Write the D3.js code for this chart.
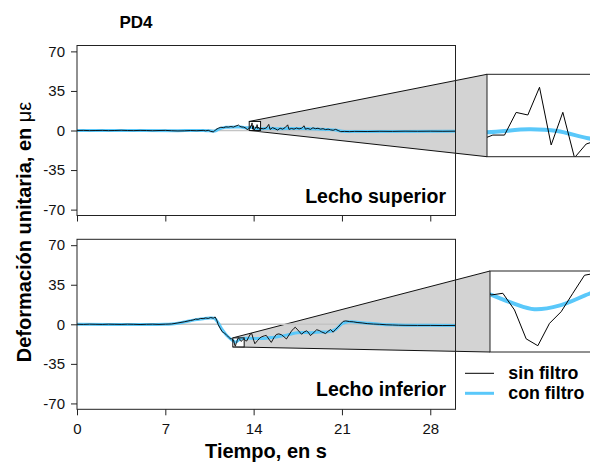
<!DOCTYPE html>
<html><head><meta charset="utf-8">
<script src="https://cdn.jsdelivr.net/npm/d3@7"></script>
<style>body{margin:0;background:#fff}svg{display:block}text{font-family:"Liberation Sans",Arial,sans-serif}</style>
</head><body><svg id="c" width="590" height="463"></svg>
<script>
// ---------- data ----------
const title = "PD4";
const xTicks = [0, 7, 14, 21, 28];
const yTicks = [-70, -35, 0, 35, 70];
const xDomain = [0, 30];
const yDomain = [-75.2, 75.2];
const panelLabels = ["Lecho superior", "Lecho inferior"];
const legendLabels = ["sin filtro", "con filtro"];
const xTitle = "Tiempo, en s";
const yTitle = "Deformación unitaria, en ";
const yUnit = "με";

// zoom windows [t0,t1] and [v0,v1]
const supZoomT = [13.65, 14.55], supZoomV = [0, 8];
const infZoomT = [12.35, 13.25], infZoomV = [-20, -12];

// Lecho superior: [t (s), deformación (µε)]
const supRaw = [[0,0],[0.5,0.1],[1,-0.1],[1.5,0],[2,0.1],[2.5,-0.1],[3,0],[3.5,0.2],[4,0],[4.5,-0.1],[5,0.1],[5.5,0],[6,-0.2],[6.5,0],[7,0.1],[7.5,-0.2],[8,-0.4],[8.5,-0.3],[9,0],[9.5,-0.2],[10,0.1],[10.2,-0.3],[10.4,0.2],[10.6,-0.8],[10.8,-1.2],[10.9,-0.5],[11,0.8],[11.2,2],[11.4,2.9],[11.6,2.5],[11.8,3.2],[12,3],[12.2,3.5],[12.4,3],[12.6,4],[12.8,4.8],[12.9,3.8],[13,3.2],[13.2,3],[13.4,2],[13.5,0.5],[13.575,1.5],[13.625,1.67],[13.675,2.1],[13.725,2.1],[13.775,4.3],[13.825,4.05],[13.875,6.74],[13.925,1.14],[13.975,4.31],[14.025,-0.1],[14.075,1.23],[14.125,1.6],[14.175,3.2],[14.225,2.5],[14.275,5.2],[14.325,1.8],[14.375,3],[14.425,2.2],[14.475,1],[14.525,2.4],[14.575,1.8],[14.8,1.5],[15,2.2],[15.2,5.4],[15.3,0.9],[15.5,2.5],[15.7,1.6],[15.9,0.4],[16.1,2],[16.3,1.2],[16.5,2.6],[16.7,5],[16.8,1],[17,1.8],[17.2,1.2],[17.4,2.2],[17.6,1.4],[17.8,2],[18,4.2],[18.1,1.2],[18.3,1.8],[18.5,1],[18.7,2.4],[18.9,1.6],[19.1,2],[19.3,1.2],[19.5,1.6],[19.7,0.8],[19.9,1.2],[20.1,0.6],[20.3,0.2],[20.5,1],[20.7,0],[20.9,-1],[21.2,-0.8],[21.6,-1],[22,-0.8],[23,-0.9],[24,-0.7],[25,-0.8],[26,-0.6],[27,-0.7],[28,-0.6],[29,-0.7],[30,-0.6]];
const supFilt = [[0,0],[5,0],[8,-0.2],[9,0],[10,0],[10.5,-0.3],[10.9,-0.5],[11.3,1.5],[11.8,2.8],[12.5,3.2],[13,3],[13.4,2.4],[13.65,2.37],[13.83,2.66],[13.95,2.5],[14.1,1.72],[14.3,1.3],[14.6,1.5],[15.2,2],[16,1.6],[17,1.8],[18,1.8],[19,1.4],[20,0.8],[20.6,0.2],[21,-0.6],[22,-0.8],[30,-0.7]];

// Lecho inferior
const infRaw = [[0,0],[0.5,-0.1],[1,0.1],[1.5,0],[2,-0.1],[2.5,0.1],[3,0],[3.5,-0.1],[4,0.1],[4.5,0],[5,-0.2],[5.5,0],[6,0.1],[6.5,-0.1],[7,0.1],[7.5,0.3],[8,1.2],[8.5,2.2],[9,3.4],[9.2,3.8],[9.4,4.6],[9.6,4.4],[9.8,5.2],[10,5],[10.2,5.6],[10.4,5.2],[10.6,6],[10.8,5.4],[10.95,6.5],[11.1,3],[11.2,-0.5],[11.35,-3.5],[11.5,-6.5],[11.6,-7.2],[11.7,-8],[11.8,-8.8],[11.9,-10],[12,-11.2],[12.1,-12],[12.2,-13.2],[12.255,-12.6],[12.305,-13],[12.355,-14.37],[12.405,-14.2],[12.455,-15.85],[12.505,-18.7],[12.555,-19.38],[12.605,-17.17],[12.655,-16.02],[12.705,-14.2],[12.755,-12.42],[12.805,-12.2],[12.855,-12.6],[12.905,-13.4],[12.955,-14.6],[13.005,-15.2],[13.055,-14.8],[13.105,-14],[13.155,-13.4],[13.205,-13],[13.255,-13.2],[13.35,-14.5],[13.45,-14.8],[13.6,-11.5],[13.75,-8.5],[13.85,-8.2],[14,-14],[14.1,-17.2],[14.3,-14.5],[14.5,-12],[14.65,-11],[14.85,-10.2],[15,-9.8],[15.2,-13],[15.4,-16],[15.6,-12],[15.8,-9],[16,-8.5],[16.2,-9.2],[16.4,-11],[16.6,-13],[16.8,-9.5],[17,-6],[17.2,-3.5],[17.3,-2.6],[17.5,-5],[17.8,-8.8],[18,-6.8],[18.2,-5.8],[18.4,-8],[18.5,-10],[18.7,-8],[19,-4.8],[19.2,-5.5],[19.4,-6.8],[19.7,-8.2],[19.9,-6.2],[20.1,-4.6],[20.3,-7],[20.5,-4.5],[20.7,-2.4],[20.9,0.2],[21.1,2.6],[21.3,3],[21.6,2.4],[21.9,2.2],[22.2,1.6],[22.6,1.2],[23,0.6],[23.5,0.2],[24,0],[24.5,-0.4],[25,-0.6],[25.5,-0.8],[26,-0.9],[27,-1],[28,-1],[29,-1.1],[30,-1]];
const infFilt = [[0,0],[7,0],[7.5,0.3],[8,1],[8.5,2],[9,3.2],[9.5,4.3],[10,5],[10.5,5.5],[10.9,5.2],[11.2,1],[11.5,-4.5],[11.8,-9],[12.1,-12.2],[12.35,-14.3],[12.45,-15.2],[12.54,-15.78],[12.65,-15.4],[12.78,-14.2],[12.9,-13.3],[13.1,-12.6],[13.5,-12.3],[14,-12.6],[14.5,-12.6],[15,-12.3],[15.5,-11.6],[16,-10.8],[16.5,-9.8],[17,-8.5],[17.5,-7.5],[18,-7.2],[18.5,-7.5],[19,-7],[19.5,-6.8],[20,-6.5],[20.5,-4.5],[21,0.5],[21.5,2.3],[22,2],[23,1],[24,0.1],[25,-0.5],[26,-0.8],[30,-1]];

// ---------- layout ----------
const BLUE = "#5ac8fa";
const L = 77, R = 455.5;
const panels = [
  {top: 45.5, bottom: 215.5, raw: supRaw, filt: supFilt, zt: supZoomT, zv: supZoomV, label: panelLabels[0], showXLabels: false,
   inset: {x0: 487, x1: 697, y0: 74.3, y1: 156.7}},
  {top: 239.3, bottom: 409.3, raw: infRaw, filt: infFilt, zt: infZoomT, zv: infZoomV, label: panelLabels[1], showXLabels: true,
   inset: {x0: 490, x1: 700, y0: 271, y1: 352}}
];
const fmt = d => String(d); // plain hyphen-minus as in the reference

const svg = d3.select("#c");
svg.append("rect").attr("width", 590).attr("height", 463).attr("fill", "#fff");
const defs = svg.append("defs");
const x = d3.scaleLinear().domain(xDomain).range([L, R]);

panels.forEach((p, i) => {
  const y = d3.scaleLinear().domain(yDomain).range([p.bottom, p.top]);
  const g = svg.append("g");
  defs.append("clipPath").attr("id", "pc" + i).append("rect")
    .attr("x", L).attr("y", p.top).attr("width", R - L).attr("height", p.bottom - p.top);
  const ins = p.inset;
  defs.append("clipPath").attr("id", "ic" + i).append("rect")
    .attr("x", ins.x0).attr("y", ins.y0).attr("width", ins.x1 - ins.x0).attr("height", ins.y1 - ins.y0);

  const bx0 = x(p.zt[0]), bx1 = x(p.zt[1]), byT = y(p.zv[1]), byB = y(p.zv[0]);

  // grey connector polygon
  g.append("path")
    .attr("d", `M${bx0},${byT}L${ins.x0},${ins.y0}L${ins.x0},${ins.y1}L${bx0},${byB}Z`)
    .attr("fill", "#d3d3d3").attr("stroke", "none");
  g.append("line").attr("x1", bx0).attr("y1", byT).attr("x2", ins.x0).attr("y2", ins.y0)
    .attr("stroke", "#111").attr("stroke-width", 1);
  g.append("line").attr("x1", bx0).attr("y1", byB).attr("x2", ins.x0).attr("y2", ins.y1)
    .attr("stroke", "#111").attr("stroke-width", 1);

  // zero reference line
  g.append("line").attr("x1", x(xDomain[0])).attr("x2", x(xDomain[1])).attr("y1", y(0)).attr("y2", y(0))
    .attr("stroke", "#c4c4c4").attr("stroke-width", 1.5);

  // small zoom box (white)
  g.append("rect").attr("x", bx0).attr("y", byT).attr("width", bx1 - bx0).attr("height", byB - byT)
    .attr("fill", "#fff");

  // data
  const lineRaw = d3.line().x(d => x(d[0])).y(d => y(d[1]));
  const lineFilt = d3.line().x(d => x(d[0])).y(d => y(d[1])).curve(d3.curveCatmullRom.alpha(0.5));
  const dg = g.append("g").attr("clip-path", `url(#pc${i})`);
  dg.append("path").datum(p.filt).attr("d", lineFilt).attr("fill", "none")
    .attr("stroke", BLUE).attr("stroke-width", 3);
  dg.append("path").datum(p.raw).attr("d", lineRaw).attr("fill", "none")
    .attr("stroke", "#000").attr("stroke-width", 0.9);

  // zoom box border
  g.append("rect").attr("x", bx0).attr("y", byT).attr("width", bx1 - bx0).attr("height", byB - byT)
    .attr("fill", "none").attr("stroke", "#111").attr("stroke-width", 1);

  // frame
  g.append("rect").attr("x", L).attr("y", p.top).attr("width", R - L).attr("height", p.bottom - p.top)
    .attr("fill", "none").attr("stroke", "#222").attr("stroke-width", 1);

  // axes
  const ya = g.append("g").attr("transform", `translate(${L},0)`)
    .call(d3.axisLeft(y).tickValues(yTicks).tickSize(6).tickPadding(6).tickFormat(fmt));
  ya.select(".domain").remove();
  ya.selectAll("text").attr("font-size", 15).attr("fill", "#111")
    .style("font-family", '"Liberation Sans",Arial,sans-serif');
  ya.selectAll("line").attr("stroke", "#222");
  const xa = g.append("g").attr("transform", `translate(0,${p.bottom})`)
    .call(d3.axisBottom(x).tickValues(xTicks).tickSize(6).tickPadding(8)
      .tickFormat(p.showXLabels ? fmt : () => ""));
  xa.select(".domain").remove();
  xa.selectAll("text").attr("font-size", 15).attr("fill", "#111")
    .style("font-family", '"Liberation Sans",Arial,sans-serif');
  xa.selectAll("line").attr("stroke", "#222");

  // panel label
  g.append("text").attr("x", 446).attr("y", p.bottom - 13).attr("text-anchor", "end")
    .attr("font-size", 19.5).attr("font-weight", "bold").attr("fill", "#000").text(p.label);

  // inset
  const xi = d3.scaleLinear().domain(p.zt).range([ins.x0, ins.x1]);
  const yi = d3.scaleLinear().domain(p.zv).range([ins.y1, ins.y0]);
  g.append("rect").attr("x", ins.x0).attr("y", ins.y0).attr("width", ins.x1 - ins.x0).attr("height", ins.y1 - ins.y0)
    .attr("fill", "#fff");
  const ig = g.append("g").attr("clip-path", `url(#ic${i})`);
  ig.append("path").datum(p.filt)
    .attr("d", d3.line().x(d => xi(d[0])).y(d => yi(d[1])).curve(d3.curveCatmullRom.alpha(0.5)))
    .attr("fill", "none").attr("stroke", BLUE).attr("stroke-width", 4);
  ig.append("path").datum(p.raw)
    .attr("d", d3.line().x(d => xi(d[0])).y(d => yi(d[1])))
    .attr("fill", "none").attr("stroke", "#000").attr("stroke-width", 1);
  g.append("rect").attr("x", ins.x0).attr("y", ins.y0).attr("width", ins.x1 - ins.x0).attr("height", ins.y1 - ins.y0)
    .attr("fill", "none").attr("stroke", "#222").attr("stroke-width", 1);
});

// title
svg.append("text").attr("x", 136).attr("y", 28).attr("text-anchor", "middle")
  .attr("font-size", 17).attr("font-weight", "bold").text(title);

// axis titles
svg.append("text").attr("x", 266).attr("y", 458).attr("text-anchor", "middle")
  .attr("font-size", 20).attr("font-weight", "bold").text(xTitle);
const yt = svg.append("text").attr("transform", "translate(31,232) rotate(-90)").attr("text-anchor", "middle")
  .attr("font-size", 20).attr("font-weight", "bold");
yt.append("tspan").text(yTitle);
yt.append("tspan").attr("font-weight", "normal").text(yUnit);

// legend
const legColors = ["#000", BLUE], legWidths = [1, 3];
legendLabels.forEach((lab, k) => {
  const ly = 373.3 + k * 20;
  svg.append("line").attr("x1", 465).attr("x2", 494).attr("y1", ly).attr("y2", ly)
    .attr("stroke", legColors[k]).attr("stroke-width", legWidths[k]);
  svg.append("text").attr("x", 508.3).attr("y", ly + 6).attr("font-size", 17.8)
    .attr("font-weight", "bold").text(lab);
});
</script></body></html>
